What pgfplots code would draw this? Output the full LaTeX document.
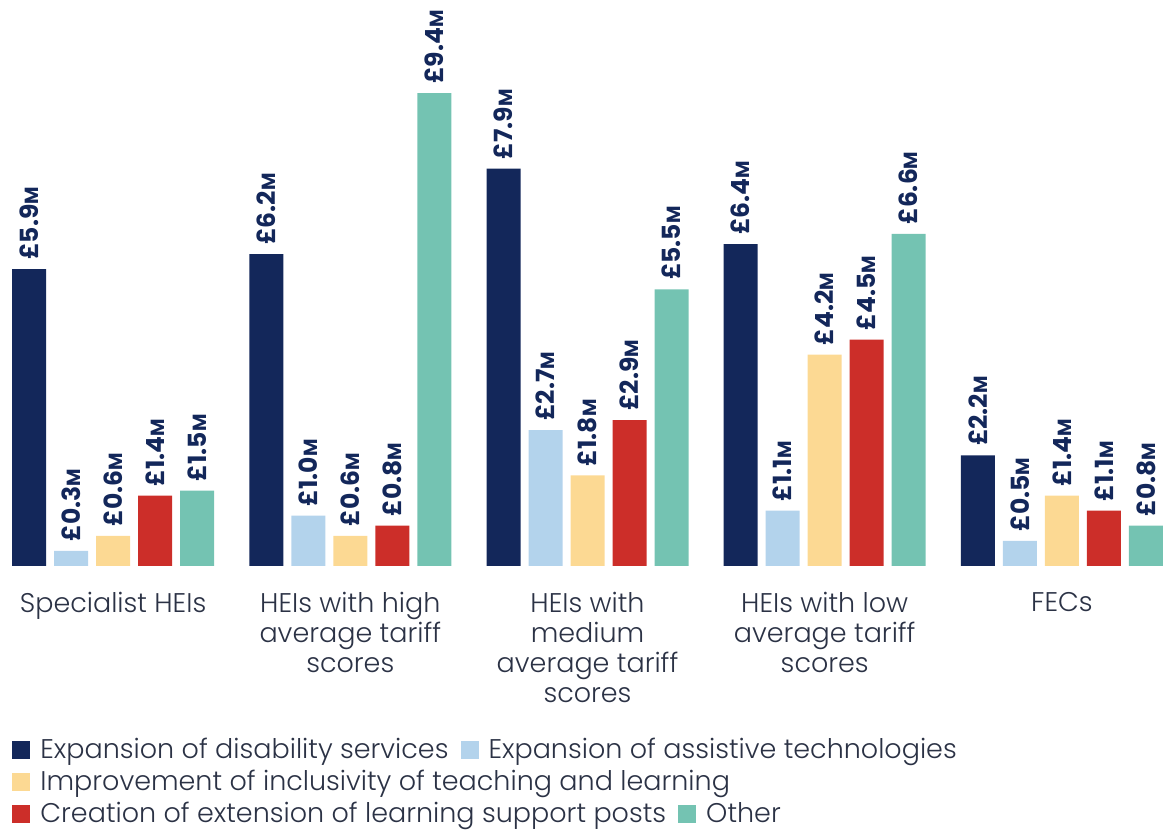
\documentclass[border=0pt]{standalone}
\usepackage{pgfplots}
\pgfplotsset{compat=1.18}
\usepackage{fontspec}
\setmainfont{Poppins}[UprightFont=* Light, BoldFont=* Bold]
\definecolor{cNavy}{HTML}{13275A}
\definecolor{cBlue}{HTML}{B3D3EC}
\definecolor{cYel}{HTML}{FCD993}
\definecolor{cRed}{HTML}{CC2E29}
\definecolor{cTeal}{HTML}{74C3B2}
\definecolor{cText}{HTML}{2B3245}
\begin{document}
\begin{tikzpicture}
\begin{axis}[
  scale only axis, width=575.5pt, height=283pt,
  xmin=-0.426, xmax=4.426, ymin=0, ymax=11.25,
  axis lines=none, clip=false,
  ybar, bar width=17pt,
  xtick={0,1,2,3,4},
  ytick=\empty,
  /pgf/number format/assume math mode=true,
  every node near coord/.append style={rotate=90, anchor=west, font=\bfseries\fontsize{12.5}{14}\selectfont, color=cNavy, inner sep=0pt, inner xsep=4.5pt},
  nodes near coords={£\pgfmathprintnumber[fixed,fixed zerofill,precision=1,assume math mode=true]{\pgfplotspointmeta}{\fontsize{9.5}{11}\selectfont M}},
]
\addplot[fill=cNavy, draw=none, bar shift=-42pt] coordinates {(0,5.9) (1,6.2) (2,7.9) (3,6.4) (4,2.2)};
\addplot[fill=cBlue, draw=none, bar shift=-21pt] coordinates {(0,0.3) (1,1.0) (2,2.7) (3,1.1) (4,0.5)};
\addplot[fill=cYel, draw=none, bar shift=0pt] coordinates {(0,0.6) (1,0.6) (2,1.8) (3,4.2) (4,1.4)};
\addplot[fill=cRed, draw=none, bar shift=21pt] coordinates {(0,1.4) (1,0.8) (2,2.9) (3,4.5) (4,1.1)};
\addplot[fill=cTeal, draw=none, bar shift=42pt] coordinates {(0,1.5) (1,9.4) (2,5.5) (3,6.6) (4,0.8)};
\foreach \i/\t in {0/{Specialist HEIs}, 1/{HEIs with high\\average tariff\\scores}, 2/{HEIs with\\medium\\average tariff\\scores}, 3/{HEIs with low\\average tariff\\scores}, 4/{FECs}} {
  \edef\temp{\noexpand\node[anchor=north, align=center, font=\noexpand\fontsize{13.5}{15}\noexpand\selectfont, text=cText, inner sep=0pt] at ([yshift=-13pt]axis cs:\i,0) {\unexpanded\expandafter{\t}};}
  \temp
}
\end{axis}
\begin{scope}[shift={(current axis.south west)}, every node/.style={anchor=west, inner sep=0pt, font=\fontsize{13.5}{15}\selectfont, text=cText}]
\node at (0pt,-93pt) {{\color{cNavy}\rule{9pt}{9pt}}\hspace{5pt}Expansion of disability services\hspace{6pt}{\color{cBlue}\rule{9pt}{9pt}}\hspace{5pt}Expansion of assistive technologies};
\node at (0pt,-109pt) {{\color{cYel}\rule{9pt}{9pt}}\hspace{5pt}Improvement of inclusivity of teaching and learning};
\node at (0pt,-125pt) {{\color{cRed}\rule{9pt}{9pt}}\hspace{5pt}Creation of extension of learning support posts\hspace{6pt}{\color{cTeal}\rule{9pt}{9pt}}\hspace{5pt}Other};
\end{scope}
\pgfresetboundingbox
\path[use as bounding box] ([xshift=-6pt,yshift=-134pt]current axis.south west) rectangle (current axis.north east);
\end{tikzpicture}
\end{document}
